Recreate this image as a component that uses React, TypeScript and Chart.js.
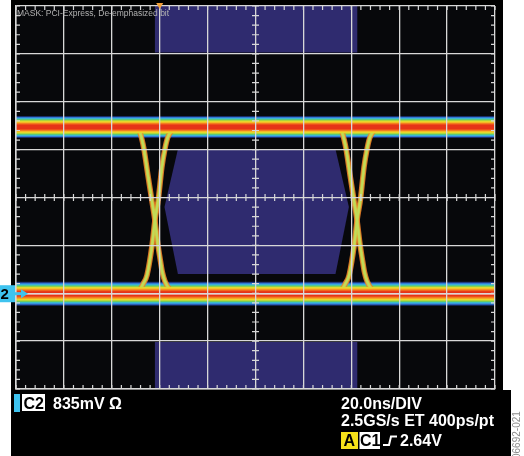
import React, { useEffect, useRef } from "react";
import { Chart, registerables } from "chart.js";

Chart.register(...registerables);

// ---------- axes (x in ns, 20 ns/div; y in vertical divisions) ----------
const X_MIN = 0;
const X_MAX = 200;
const X_STEP = 20;
const Y_MIN = -4;
const Y_MAX = 4;
const Y_STEP = 1;
const TRIGGER_POS = 60;

// ---------- logic levels (divisions) ----------
const HIGH_LEVEL = 1.47;
const LOW_LEVEL = -2.01;
const bandX = [0, 200];

// ---------- transitions, left crossing ----------
const fallLeftX = [48.0, 50.9, 51.7, 52.6, 53.4, 55.1, 56.5, 58.0, 59.3, 60.3, 61.1, 62.2, 64.3, 66.8, 70.5];
const fallLeftY = [1.47, 1.45, 1.37, 1.21, 1.02, 0.46, 0.01, -0.48, -1.0, -1.32, -1.56, -1.75, -1.93, -2.0, -2.01];
const riseLeftX = [48.0, 50.9, 51.7, 53.0, 54.7, 56.8, 58.0, 59.5, 60.9, 62.2, 63.4, 65.1, 67.6, 71.4];
const riseLeftY = [-2.01, -2.0, -1.93, -1.81, -1.62, -1.0, -0.48, -0.01, 0.63, 1.02, 1.26, 1.4, 1.45, 1.47];

// ---------- transitions, right crossing ----------
const fallRightX = [132.4, 135.3, 136.1, 137.0, 137.8, 139.5, 140.9, 142.4, 143.7, 144.7, 145.5, 146.6, 148.7, 151.2, 154.9];
const fallRightY = [1.47, 1.45, 1.37, 1.21, 1.02, 0.46, 0.01, -0.48, -1.0, -1.32, -1.56, -1.75, -1.93, -2.0, -2.01];
const riseRightX = [132.4, 135.3, 136.1, 137.4, 139.1, 141.2, 142.4, 143.9, 145.3, 146.6, 147.8, 149.5, 152.0, 155.8];
const riseRightY = [-2.01, -2.0, -1.93, -1.81, -1.62, -1.0, -0.48, -0.01, 0.63, 1.02, 1.26, 1.4, 1.45, 1.47];

// ---------- mask regions ----------
const maskTopX = [58, 142.5, 142.5, 58];
const maskTopY = [4, 4, 3.03, 3.03];
const maskBottomX = [58, 142.5, 142.5, 58];
const maskBottomY = [-3.02, -3.02, -4, -4];
const maskCenterX = [62, 67.6, 133.4, 139, 133.4, 67.6];
const maskCenterY = [-0.2, 1.01, 1.01, -0.2, -1.6, -1.6];

// ---------- texts ----------
const maskLabel = "MASK: PCI-Express, De-emphasized bit";
const ch2Badge = "C2";
const ch2Scale = "835mV \u03A9";
const timebase = "20.0ns/DIV";
const sampling = "2.5GS/s ET 400ps/pt";
const trigMode = "A";
const trigSource = "C1";
const trigLevel = "2.64V";
const figureId = "06692-021";
const chMarker = "2";

// ---------- styles (persistence colour gradient, outer -> inner) ----------
const highLayersOuter = [
  { color: "rgba(40,80,190,0.55)", width: 22 },
  { color: "rgba(52,118,220,0.9)", width: 20 },
  { color: "#3aa6e2", width: 18.5 },
  { color: "#3ec2c2", width: 17 },
  { color: "#62c96a", width: 15.5 },
  { color: "#9bd343", width: 14 },
];
const highLayersInner = [
  { color: "#d6dd33", width: 12.5 },
  { color: "#f0d52a", width: 11 },
  { color: "#f7b025", width: 9.5 },
  { color: "#f58a20", width: 8 },
  { color: "#ef5a1c", width: 6.5 },
  { color: "#e63417", width: 4.5 },
];
const lowLayersOuter = [
  { color: "rgba(40,80,190,0.55)", width: 24 },
  { color: "rgba(52,118,220,0.9)", width: 22 },
  { color: "#3aa6e2", width: 20 },
  { color: "#3ec2c2", width: 18 },
  { color: "#62c96a", width: 16.5 },
  { color: "#9bd343", width: 15 },
];
const lowLayersInner = [
  { color: "#d6dd33", width: 13.5 },
  { color: "#f0d52a", width: 12 },
  { color: "#f7b025", width: 10.5 },
  { color: "#f58a20", width: 9 },
  { color: "#ef5a1c", width: 7 },
  { color: "#e63417", width: 5 },
  { color: "#ffe2d6", width: 1.3 },
];
const MASK_COLOR = "#2f2b6f";
const GRID_COLOR = "#d8d8d8";
const CYAN = "#3ec3ef";

const pts = (xs: number[], ys: number[]) => xs.map((x, i) => ({ x, y: ys[i] }));

function buildDatasets() {
  const ds: any[] = [];
  const mask = (xs: number[], ys: number[]) => ({
    data: pts(xs, ys),
    borderWidth: 0,
    borderColor: MASK_COLOR,
    backgroundColor: MASK_COLOR,
    fill: "shape",
    pointRadius: 0,
    tension: 0,
    order: 100,
  });
  ds.push(mask(maskTopX, maskTopY));
  ds.push(mask(maskBottomX, maskBottomY));
  ds.push(mask(maskCenterX, maskCenterY));

  const band = (level: number, color: string, width: number, order: number) => ({
    data: pts(bandX, [level, level]),
    borderColor: color,
    borderWidth: width,
    pointRadius: 0,
    fill: false,
    order,
  });
  highLayersOuter.forEach((l, i) => ds.push(band(HIGH_LEVEL, l.color, l.width, 60 - i)));
  lowLayersOuter.forEach((l, i) => ds.push(band(LOW_LEVEL, l.color, l.width, 60 - i)));

  const edge = (xs: number[], ys: number[], color: string, width: number, order: number) => ({
    data: pts(xs, ys),
    borderColor: color,
    borderWidth: width,
    pointRadius: 0,
    fill: false,
    cubicInterpolationMode: "monotone",
    order,
  });
  const edges: [number[], number[]][] = [
    [fallLeftX, fallLeftY],
    [riseLeftX, riseLeftY],
    [fallRightX, fallRightY],
    [riseRightX, riseRightY],
  ];
  edges.forEach(([xs, ys]) => ds.push(edge(xs, ys, "rgba(236,128,40,0.9)", 5.5, 36)));
  edges.forEach(([xs, ys]) => ds.push(edge(xs, ys, "#d2c845", 3.4, 33)));
  edges.forEach(([xs, ys]) => ds.push(edge(xs, ys, "#bfdc5a", 1.8, 30)));

  highLayersInner.forEach((l, i) => ds.push(band(HIGH_LEVEL, l.color, l.width, 20 - i)));
  lowLayersInner.forEach((l, i) => ds.push(band(LOW_LEVEL, l.color, l.width, 20 - i)));
  return ds;
}

const backgroundPlugin = {
  id: "scopeBackground",
  beforeDraw(chart: any) {
    const { ctx, chartArea: a } = chart;
    ctx.save();
    ctx.fillStyle = "#ffffff";
    ctx.fillRect(0, 0, chart.width, chart.height);
    ctx.fillStyle = "#000000";
    ctx.fillRect(11, 0, 492, 392);
    ctx.fillRect(11, 390, 500, 66);
    ctx.fillStyle = "#07080b";
    ctx.fillRect(a.left, a.top, a.right - a.left, a.bottom - a.top);
    ctx.restore();
  },
};

const overlayPlugin = {
  id: "scopeOverlay",
  afterDraw(chart: any) {
    const { ctx, chartArea: a, scales } = chart;
    const xs = scales.x;
    const ys = scales.y;
    ctx.save();
    // minor ticks
    ctx.strokeStyle = GRID_COLOR;
    ctx.lineWidth = 1.2;
    ctx.beginPath();
    const cy = ys.getPixelForValue(0);
    const cx = xs.getPixelForValue((X_MIN + X_MAX) / 2);
    const nx = ((X_MAX - X_MIN) / X_STEP) * 5;
    for (let i = 0; i <= nx; i++) {
      const px = xs.getPixelForValue(X_MIN + (i * X_STEP) / 5);
      ctx.moveTo(px, a.top);
      ctx.lineTo(px, a.top + 4);
      ctx.moveTo(px, a.bottom);
      ctx.lineTo(px, a.bottom - 4);
      ctx.moveTo(px, cy - 3.5);
      ctx.lineTo(px, cy + 3.5);
    }
    const ny = ((Y_MAX - Y_MIN) / Y_STEP) * 5;
    for (let i = 0; i <= ny; i++) {
      const py = ys.getPixelForValue(Y_MIN + (i * Y_STEP) / 5);
      ctx.moveTo(a.left, py);
      ctx.lineTo(a.left + 4, py);
      ctx.moveTo(a.right, py);
      ctx.lineTo(a.right - 4, py);
      ctx.moveTo(cx - 3.5, py);
      ctx.lineTo(cx + 3.5, py);
    }
    ctx.stroke();

    // trigger position marker
    const tx = xs.getPixelForValue(TRIGGER_POS);
    ctx.fillStyle = "#f2a03a";
    ctx.beginPath();
    ctx.moveTo(tx - 3.5, a.top - 3);
    ctx.lineTo(tx + 3.5, a.top - 3);
    ctx.lineTo(tx, a.top + 3);
    ctx.closePath();
    ctx.fill();

    // mask label
    ctx.fillStyle = "#b2b2b2";
    ctx.font = '8.5px "Liberation Sans", Arial, sans-serif';
    ctx.textBaseline = "alphabetic";
    ctx.fillText(maskLabel, a.left + 1, a.top + 10);

    // channel 2 ground marker
    const gy = ys.getPixelForValue(LOW_LEVEL);
    ctx.fillStyle = CYAN;
    ctx.fillRect(0, gy - 8.5, 15, 17);
    ctx.fillRect(15, gy - 1.5, 7, 3);
    ctx.beginPath();
    ctx.moveTo(21, gy - 4.5);
    ctx.lineTo(28, gy);
    ctx.lineTo(21, gy + 4.5);
    ctx.closePath();
    ctx.fill();
    ctx.fillStyle = "#000000";
    ctx.font = 'bold 15px "Liberation Sans", Arial, sans-serif';
    ctx.fillText(chMarker, 0.5, gy + 5.5);

    // bottom-left status
    const bold = 'bold 16px "Liberation Sans", Arial, sans-serif';
    ctx.font = bold;
    ctx.fillStyle = CYAN;
    ctx.fillRect(14, 394, 6, 18);
    ctx.fillStyle = "#ffffff";
    ctx.fillRect(22, 394, 23, 17);
    ctx.fillStyle = "#000000";
    ctx.fillText(ch2Badge, 23.5, 408.5);
    ctx.fillStyle = "#ffffff";
    ctx.fillText(ch2Scale, 53, 408.5);

    // bottom-right status
    ctx.fillText(timebase, 341, 408.5);
    ctx.fillText(sampling, 341, 426);
    ctx.fillStyle = "#f6e21a";
    ctx.fillRect(341, 432, 17, 17);
    ctx.fillStyle = "#ffffff";
    ctx.fillRect(359.5, 432, 20.5, 17);
    ctx.fillStyle = "#000000";
    ctx.fillText(trigMode, 343.5, 446);
    ctx.fillText(trigSource, 360, 446);
    ctx.strokeStyle = "#ffffff";
    ctx.lineWidth = 2;
    ctx.beginPath();
    ctx.moveTo(383, 445);
    ctx.lineTo(389, 445);
    ctx.lineTo(391, 436.5);
    ctx.lineTo(397, 436.5);
    ctx.stroke();
    ctx.fillStyle = "#ffffff";
    ctx.fillText(trigLevel, 400, 446);

    // figure id
    ctx.translate(520, 459);
    ctx.rotate(-Math.PI / 2);
    ctx.fillStyle = "#8c8c8c";
    ctx.font = '10px "Liberation Sans", Arial, sans-serif';
    ctx.fillText(figureId, 0, 0);
    ctx.restore();
  },
};

export default function App() {
  const ref = useRef<HTMLCanvasElement>(null);
  useEffect(() => {
    document.body.style.margin = "0";
    const gridOpts = {
      color: GRID_COLOR,
      lineWidth: 1.3,
      drawTicks: false,
      z: 1,
    };
    const borderOpts = { display: true, color: GRID_COLOR, width: 1.5, z: 1 };
    const chart = new Chart(ref.current as HTMLCanvasElement, {
      type: "line",
      data: { datasets: buildDatasets() },
      options: {
        responsive: false,
        animation: false,
        devicePixelRatio: 1,
        layout: { padding: { left: 16, right: 29, top: 6, bottom: 67 } },
        plugins: {
          legend: { display: false },
          title: { display: false },
          tooltip: { enabled: false },
        },
        events: [],
        scales: {
          x: {
            type: "linear",
            min: X_MIN,
            max: X_MAX,
            z: 1,
            ticks: { display: false, stepSize: X_STEP },
            grid: gridOpts,
            border: borderOpts,
          },
          y: {
            type: "linear",
            min: Y_MIN,
            max: Y_MAX,
            z: 1,
            ticks: { display: false, stepSize: Y_STEP },
            grid: gridOpts,
            border: borderOpts,
          },
        },
      } as any,
      plugins: [backgroundPlugin, overlayPlugin],
    });
    return () => chart.destroy();
  }, []);
  return (
    <div style={{ position: "absolute", left: 0, top: 0, width: 524, height: 456, background: "#fff" }}>
      <canvas ref={ref} width={524} height={456} style={{ display: "block", width: 524, height: 456 }} />
    </div>
  );
}
